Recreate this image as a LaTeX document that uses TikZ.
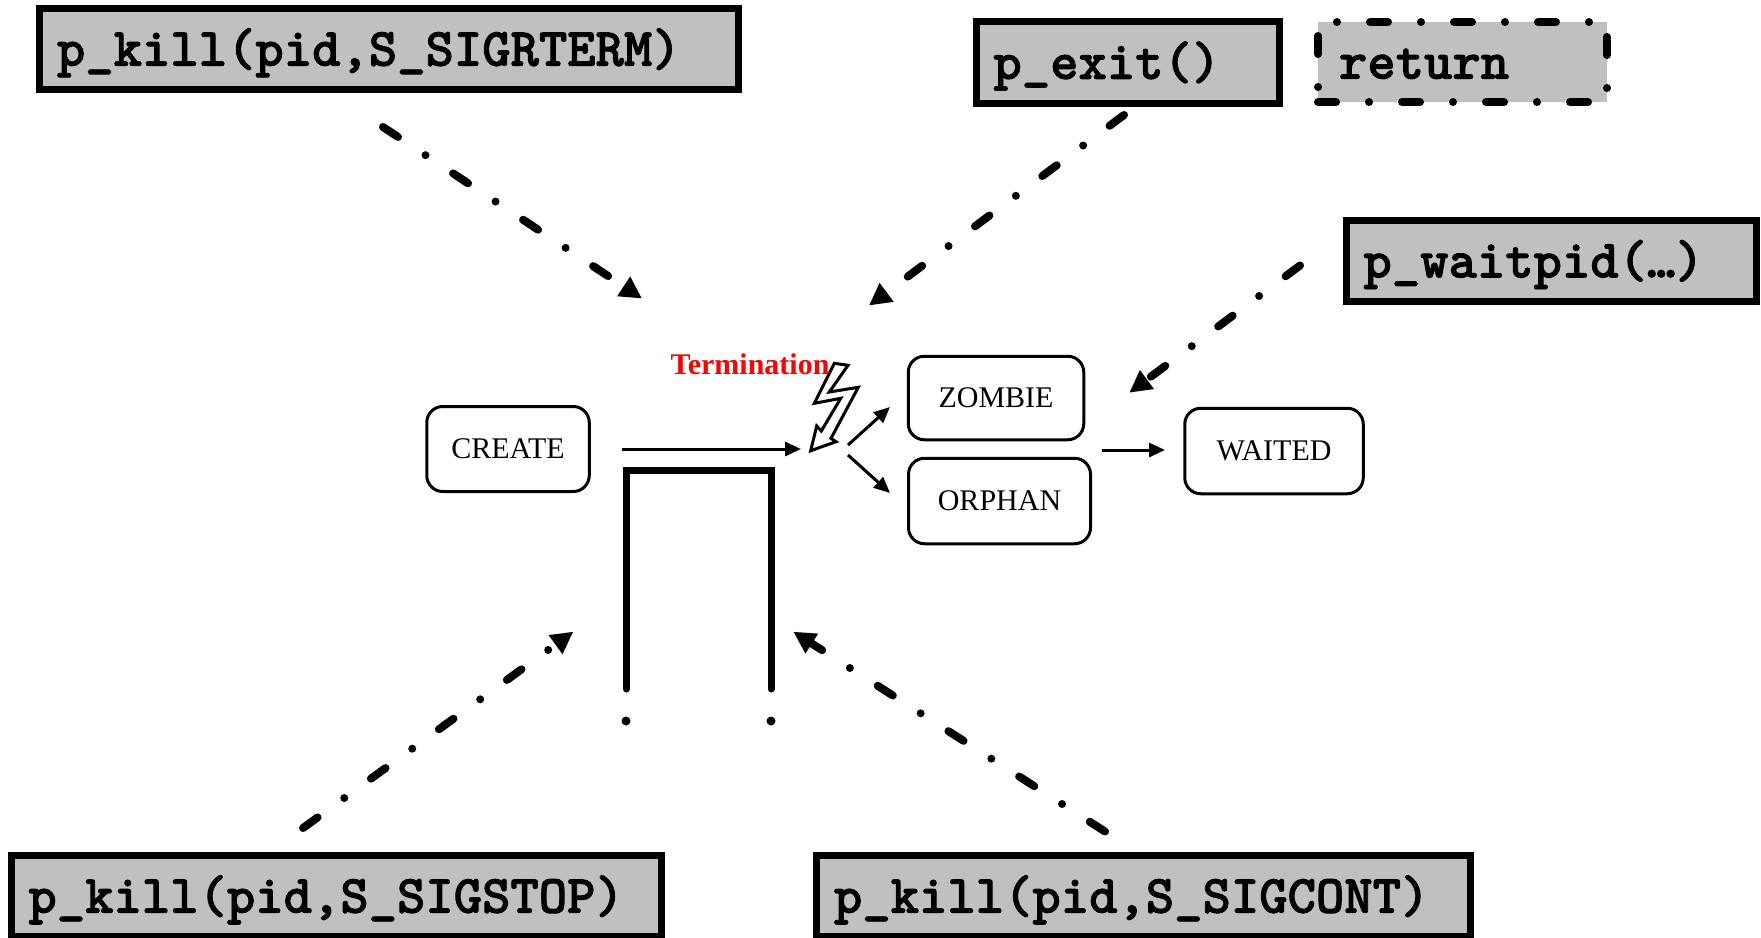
\documentclass[tikz,border=0pt]{standalone}
\usepackage{fontspec}
\setmainfont{Liberation Serif}
\newfontfamily\codefont{lmmonolt10-bold.otf}[FakeBold=1.6]
\usetikzlibrary{arrows.meta}
\definecolor{boxgray}{RGB}{192,192,192}
\definecolor{termred}{RGB}{255,0,0}

\begin{document}
\begin{tikzpicture}[x=1pt,y=-1pt,
  cmd/.style={rectangle, draw=black, fill=boxgray, line width=7pt, outer sep=0pt,
    anchor=north west, inner xsep=17.5pt, inner ysep=0pt, align=left,
    text height=40.4pt, text depth=7.1pt,
    font=\codefont\fontsize{54}{56}\selectfont},
  dashdot/.style={line width=8pt, line cap=round,
    dash pattern=on 18pt off 33pt on 0pt off 33pt},
  callarrow/.style={dashdot, -{Triangle[length=22pt,width=22pt]}},
  state/.style={rectangle, draw=black, line width=3pt, rounded corners=16pt,
    font=\fontsize{30}{32}\selectfont, inner sep=0pt, outer sep=0pt},
  flow/.style={line width=3pt, -{Triangle[length=16pt,width=14pt]}},
]
\useasboundingbox (0,0) rectangle (1761,937);
\clip (0,0) rectangle (1761,937);

% system calls and signals
\node[cmd, minimum width=699pt, minimum height=81pt, text width=664pt]
  (kterm) at (39.5,8.5) {p\_kill(pid,S\_SIGRTERM)};
\node[cmd, minimum width=303pt, minimum height=81.5pt, text width=268pt]
  (pexit) at (976,21.5) {p\_exit()};
\node[cmd, draw=black, dashdot, inner xsep=21pt, minimum width=289pt,
  minimum height=80pt, text width=247pt]
  (ret) at (1318,22) {return};
\node[cmd, minimum width=410.5pt, minimum height=81.5pt, text width=375.5pt]
  (wait) at (1346,220) {p\_waitpid(…)};
\node[cmd, minimum width=650.5pt, minimum height=81pt, text width=615.5pt]
  (kstop) at (11,855.5) {p\_kill(pid,S\_SIGSTOP)};
\node[cmd, minimum width=654pt, minimum height=81pt, text width=619pt]
  (kcont) at (816.5,855.5) {p\_kill(pid,S\_SIGCONT)};

% process states
\node[state, minimum width=162.5pt, minimum height=85pt] (create) at (508,449) {CREATE};
\node[state, minimum width=175.5pt, minimum height=83.5pt] (zombie) at (996,398) {ZOMBIE};
\node[state, minimum width=182pt, minimum height=85.5pt] (orphan) at (999.5,501) {ORPHAN};
\node[state, minimum width=178.5pt, minimum height=85.5pt] (waited) at (1274,451) {WAITED};

% termination event
\node[anchor=base, text=termred, font=\bfseries\fontsize{30}{32}\selectfont]
  (term) at (750,374) {Termination};
\draw[line width=3pt, fill=white, line join=miter]
  (834.3,363.3) -- (848,365.3) -- (829.3,392) -- (858.3,387.3) -- (831,438.3)
  -- (836,441.7) -- (810.7,450.7) -- (816.7,426) -- (821.3,431) -- (840.7,398.3)
  -- (814.3,403.3) -- cycle;

% state transitions
\coordinate (runA) at (622,449);
\coordinate (runB) at (801,449);
\coordinate (forkO) at (848,445);
\coordinate (toZ) at (890,407);
\coordinate (forkU) at (848,455);
\coordinate (toO) at (890,493);
\coordinate (reapA) at (1101.5,450);
\coordinate (reapB) at (1165,450);
\draw[flow] (runA) -- (runB);
\draw[flow] (forkO) -- (toZ);
\draw[flow] (forkU) -- (toO);
\draw[flow] (reapA) -- (reapB);

% stopped region
\draw[line width=7pt, line cap=round, line join=miter]
  (626,689) -- (626,470) -- (771,470) -- (771,689);
\fill (626,721) circle (4.5pt);
\fill (771,721) circle (4.5pt);

% calls acting on the process
\coordinate (a1s) at (383,127);   \coordinate (a1e) at (642,298.5);
\coordinate (a2s) at (1124,115);  \coordinate (a2e) at (869,305.5);
\coordinate (a3s) at (1300,265.5);\coordinate (a3e) at (1129.3,392.7);
\coordinate (a4s) at (303,828);   \coordinate (a4e) at (573.3,631.7);
\coordinate (a5s) at (1105,831.5);\coordinate (a5e) at (793.3,631.7);
\draw[callarrow] (a1s) -- (a1e);
\draw[callarrow] (a2s) -- (a2e);
\draw[callarrow] (a3s) -- (a3e);
\draw[callarrow] (a4s) -- (a4e);
\draw[callarrow] (a5s) -- (a5e);
\end{tikzpicture}
\end{document}
